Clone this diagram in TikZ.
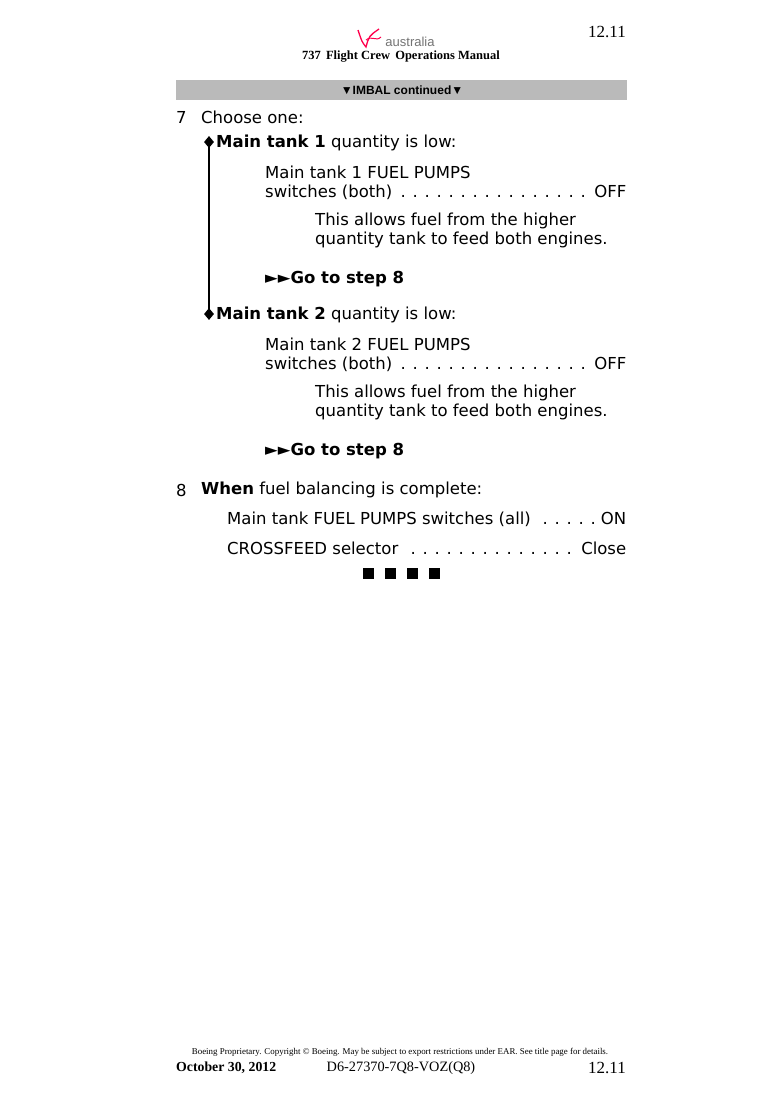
\documentclass[tikz,border=0pt]{standalone}
\usepackage{fontspec}
\setmainfont{DejaVu Sans}
\newfontfamily\serifx{Liberation Serif}
\newfontfamily\arialx{Liberation Sans}
\newcommand{\ldr}[3]{\makebox[#1][l]{#2\leaders\hbox to 12pt{\hss.\hss}\hfill#3}}
\tikzset{
  body/.style={anchor=west,inner sep=0pt,font=\fontsize{16.5}{19}\selectfont},
  dia/.style={diamond,fill=black,inner sep=0pt,minimum width=10pt,minimum height=12pt},
  sq/.style={fill=black,inner sep=0pt,minimum size=11pt},
}
\usetikzlibrary{shapes.geometric}
\begin{document}
\begin{tikzpicture}[x=1pt,y=-1pt]
\useasboundingbox (0,0) rectangle (778,1100);
% header
\node[anchor=east,inner sep=0pt,font=\serifx\fontsize{17}{20}\selectfont] (pg) at (626,32) {12.11};
\node[inner sep=0pt,font=\arialx\fontsize{13}{14}\selectfont,text=black!55] (aus) at (410,42) {australia};
\draw[red!70!magenta,line width=1.3pt] (358,30) .. controls (362,42) .. (366,47) .. controls (369,36) .. (379,29);
\draw[red!70!magenta,line width=1pt] (366,40) .. controls (372,35) and (376,42) .. (381,37);
\node[inner sep=0pt,font=\serifx\bfseries\fontsize{12.5}{14}\selectfont] (man) at (401,57) {737\, Flight Crew\, Operations Manual};
\fill[black!27] (176,80) rectangle (627,100);
\node[inner sep=0pt,font=\arialx\bfseries\fontsize{12}{14}\selectfont] (bar) at (402,90) {▼IMBAL continued▼};
% step 7
\node[body] (s7) at (176,117) {7};
\node[body] (c1) at (201,117) {Choose one:};
\node[dia] (d1) at (209,142) {};
\node[dia] (d2) at (209,314) {};
\draw[line width=1.2pt] (d1.center) -- (d2.center);
\node[body] (m1) at (216,143) {\textbf{Main tank 1} quantity is low:};
\node[body] (a1) at (265,172) {Main tank 1 FUEL PUMPS};
\node[body] (b1) at (265,192) {\ldr{361pt}{switches (both)}{OFF}};
\node[body] (t1) at (315,221) {This allows fuel from the higher};
\node[body] (u1) at (315,240) {quantity tank to feed both engines.};
\node[body] (g1) at (265,279) {\textbf{►►Go to step 8}};
\node[body] (m2) at (216,315) {\textbf{Main tank 2} quantity is low:};
\node[body] (a2) at (265,344) {Main tank 2 FUEL PUMPS};
\node[body] (b2) at (265,364) {\ldr{361pt}{switches (both)}{OFF}};
\node[body] (t2) at (315,393) {This allows fuel from the higher};
\node[body] (u2) at (315,412) {quantity tank to feed both engines.};
\node[body] (g2) at (265,451) {\textbf{►►Go to step 8}};
% step 8
\node[body] (s8) at (176,490) {8};
\node[body] (w8) at (201,490) {\textbf{When} fuel balancing is complete:};
\node[body] (p8) at (227,519) {\ldr{399pt}{Main tank FUEL PUMPS switches (all)}{ON}};
\node[body] (x8) at (227,548) {\ldr{399pt}{CROSSFEED selector}{Close}};
\foreach \i/\xx in {1/368,2/390,3/412,4/434} \node[sq] (q\i) at (\xx,573) {};
% footer
\node[inner sep=0pt,font=\serifx\fontsize{8.9}{10}\selectfont] (cp) at (400,1052) {Boeing Proprietary. Copyright © Boeing. May be subject to export restrictions under EAR. See title page for details.};
\node[anchor=west,inner sep=0pt,font=\serifx\bfseries\fontsize{13.8}{15}\selectfont] (dt) at (176,1068) {October 30, 2012};
\node[inner sep=0pt,font=\serifx\fontsize{14.3}{16}\selectfont] (dn) at (401,1068) {D6-27370-7Q8-VOZ(Q8)};
\node[anchor=east,inner sep=0pt,font=\serifx\fontsize{17}{20}\selectfont] (pg2) at (626,1068) {12.11};
\end{tikzpicture}
\end{document}
